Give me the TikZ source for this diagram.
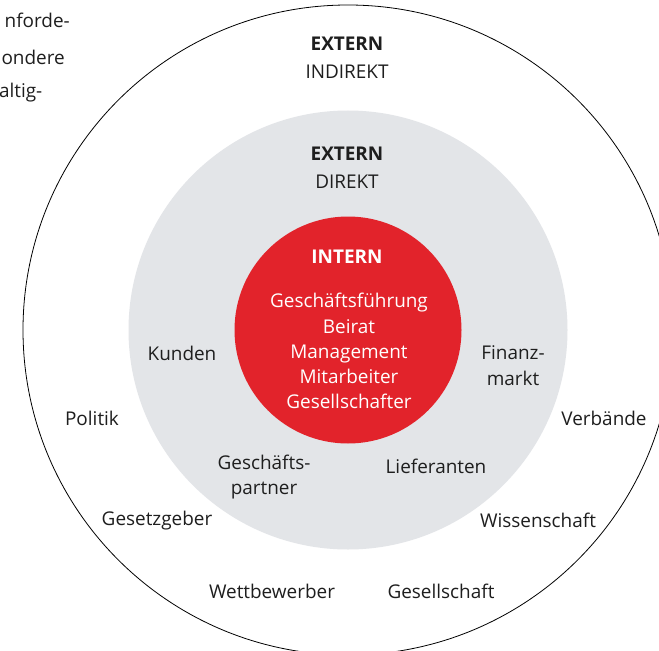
\documentclass[tikz,border=0pt]{standalone}
\usepackage{fontspec}
\setmainfont{Open Sans}
\definecolor{redc}{RGB}{226,35,43}
\definecolor{grayc}{RGB}{227,229,232}
\definecolor{txt}{RGB}{30,30,30}
\begin{document}
\begin{tikzpicture}[x=1bp,y=-1bp,
  lbl/.style={font=\fontsize{19}{20}\selectfont, text=txt, inner sep=0pt, align=center},
  bold/.style={font=\fontsize{19}{20}\selectfont\bfseries, text=txt, inner sep=0pt},
  wlbl/.style={font=\fontsize{19}{25.2}\selectfont, text=white, inner sep=0pt, align=center}]
\useasboundingbox (0,0) rectangle (659,651);
\clip (0,0) rectangle (659,651);
\coordinate (c) at (348,330);
\draw[line width=0.8pt, fill=white] (c) circle[radius=325];
\fill[grayc] (c) circle[radius=219.5];
\fill[redc] (c) circle[radius=113.5];
% outer labels
\node[bold] (ei) at (347,44) {EXTERN};
\node[lbl] (ind) at (347,72) {INDIREKT};
\node[bold] (ed) at (347,154) {EXTERN};
\node[lbl] (dir) at (347,182) {DIREKT};
\node[bold, text=white] (in) at (347,257) {INTERN};
\node[wlbl] (inl) at (349,351) {Geschäftsführung\\Beirat\\Management\\Mitarbeiter\\Gesellschafter};
\node[lbl] (kun) at (182,353) {Kunden};
\node[lbl, font=\fontsize{19}{26}\selectfont] (fin) at (513,366) {Finanz-\\markt};
\node[lbl] (pol) at (92,418) {Politik};
\node[lbl] (ver) at (604,418) {Verbände};
\node[lbl, font=\fontsize{19}{26}\selectfont] (gp) at (264,477) {Geschäfts-\\partner};
\node[lbl] (lie) at (436,466) {Lieferanten};
\node[lbl] (gg) at (157,521) {Gesetzgeber};
\node[lbl] (wis) at (538,520) {Wissenschaft};
\node[lbl] (wet) at (272,591) {Wettbewerber};
\node[lbl] (ges) at (441,591) {Gesellschaft};
% visible part of text from neighbouring column
\node[lbl, anchor=east] (t1) at (70,20) {nforde-};
\node[lbl, anchor=east] (t2) at (65,57) {ondere};
\node[lbl, anchor=east] (t3) at (42.5,93) {altig-};
\end{tikzpicture}
\end{document}
